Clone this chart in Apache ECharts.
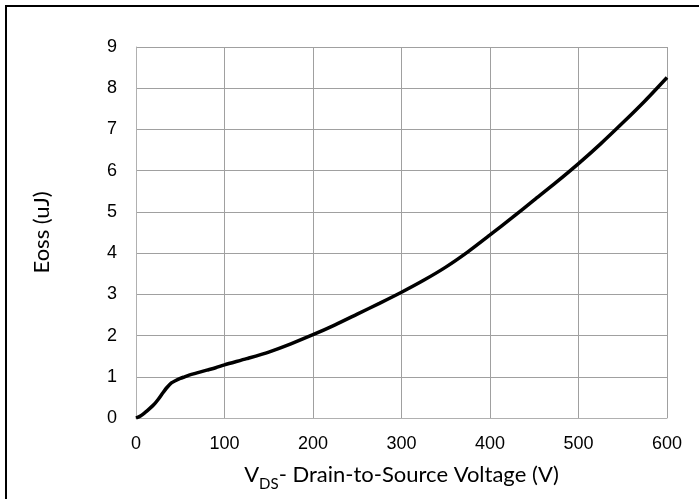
<!DOCTYPE html>
<html>
<head>
<meta charset="utf-8">
<script src="https://cdn.jsdelivr.net/npm/echarts@6/dist/echarts.min.js"></script>
<style>
html,body{margin:0;padding:0;background:#fff;}
#frame{position:absolute;left:5px;top:5px;width:700px;height:500px;border-left:2px solid #000;border-top:2px solid #000;}
#chart{position:absolute;left:0;top:0;width:699px;height:499px;}
</style>
</head>
<body>
<div id="frame"></div>
<div id="chart"></div>
<script>
const vds  = [0,5,10,15,20,25,30,35,40,45,50,55,60,70,80,90,100,125,150,175,200,225,250,275,300,325,350,375,400,425,450,475,500,525,550,575,600];
const eoss = [0,0.05,0.13,0.22,0.32,0.45,0.6,0.74,0.85,0.91,0.96,1.0,1.04,1.1,1.16,1.22,1.29,1.44,1.6,1.8,2.02,2.26,2.52,2.78,3.05,3.34,3.66,4.03,4.44,4.86,5.29,5.72,6.17,6.65,7.16,7.69,8.26];
const xTicks = [0,100,200,300,400,500,600];
const yTicks = [0,1,2,3,4,5,6,7,8,9];

const chart = echarts.init(document.getElementById('chart'));
chart.setOption({
  animation:false,
  grid:{left:136,top:47,right:32,bottom:81,containLabel:false},
  xAxis:{
    type:'value',min:0,max:600,interval:100,
    axisLine:{lineStyle:{color:'#b0b0b0',width:1}},
    axisTick:{show:false},
    splitLine:{show:true,lineStyle:{color:'#a0a0a0',width:1}},
    axisLabel:{color:'#000',fontFamily:'Liberation Sans',fontSize:18,margin:17},
    name:'{n|V}{s|DS}{n|- Drain-to-Source Voltage (V)}',
    nameLocation:'middle',nameGap:46,
    nameTextStyle:{rich:{
      n:{fontFamily:'Lato',fontSize:22,color:'#000',verticalAlign:'bottom'},
      s:{fontFamily:'Lato',fontSize:15,color:'#000',verticalAlign:'bottom',padding:[0,0,-6,0]}
    }}
  },
  yAxis:{
    type:'value',min:0,max:9,interval:1,
    axisLine:{show:true,lineStyle:{color:'#b0b0b0',width:1}},
    axisTick:{show:false},
    splitLine:{show:true,lineStyle:{color:'#a0a0a0',width:1}},
    axisLabel:{color:'#000',fontFamily:'Liberation Sans',fontSize:18,margin:19},
    name:'Eoss (uJ)',nameLocation:'middle',nameGap:83,nameRotate:90,
    nameTextStyle:{fontFamily:'Lato',fontSize:22,color:'#000'}
  },
  series:[{
    type:'line',data:vds.map((v,i)=>[v,eoss[i]]),
    smooth:0.25,showSymbol:false,
    lineStyle:{color:'#000',width:3.5},
    clip:false
  }]
});
</script>
</body>
</html>
